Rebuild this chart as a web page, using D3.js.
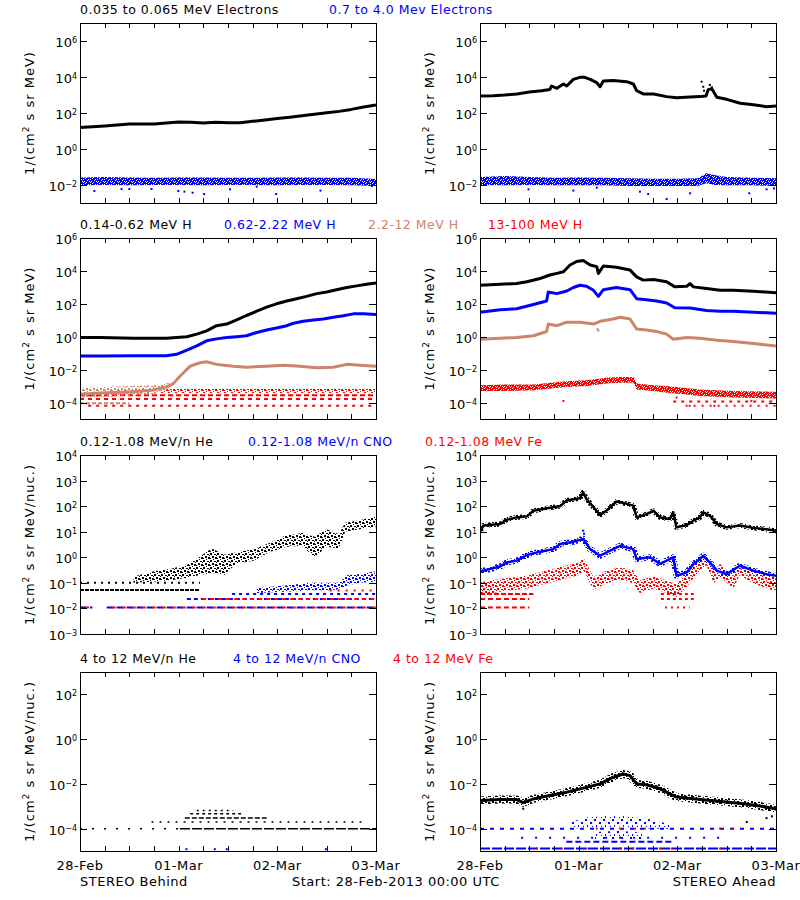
<!DOCTYPE html>
<html><head><meta charset="utf-8">
<script src="https://cdn.jsdelivr.net/npm/d3@7"></script>
<style>
html,body{margin:0;padding:0;background:#fff;}
svg{display:block;}
text{font-family:"DejaVu Sans",sans-serif;}
</style></head><body>
<svg id="chart" width="800" height="900"></svg>
<script>
// ================= DATA (time in hours from 28-Feb-2013 00:00 UTC, flux as log10) =================
const dayLabels = ["28-Feb","01-Mar","02-Mar","03-Mar"];
const dayHours  = [0,24,48,72];
const minorHours = [6,12,18,30,36,42,54,60,66];

// ---- Row 1: electrons ----
const bElecLowT = [0,3,6,9,12,15,18,21,24,27,30,33,36,39,42,45,48,51,54,57,60,63,66,69,72];
const bElecLowV = [1.20,1.24,1.28,1.33,1.39,1.39,1.39,1.44,1.50,1.48,1.44,1.48,1.46,1.46,1.54,1.61,1.69,1.76,1.85,1.93,2.02,2.09,2.20,2.33,2.44];
const bElecHighT  = [0,6,12,18,24,30,36,42,48,54,60,66,72];
const bElecHighLo = [-2.02,-2.0,-2.02,-2.0,-2.0,-2.02,-2.0,-2.0,-2.02,-2.0,-2.0,-2.02,-2.06];
const bElecHighHi = [-1.58,-1.55,-1.58,-1.6,-1.58,-1.58,-1.6,-1.6,-1.58,-1.58,-1.6,-1.6,-1.66];
const bElecHighOutT = [3.5,10.1,12,17.4,23.9,25.4,27.4,30.2,36.5,43,47.7,58.5,71];
const bElecHighOutV = [-2.33,-2.22,-2.22,-2.22,-2.33,-2.37,-2.43,-2.5,-2.24,-2.09,-2.5,-2.31,-2.06];

const aElecLowT = [0,3.2,6,9,12,15,17,17.4,18.7,20.3,21.1,22.7,24.3,25.5,26.8,28.4,29.2,30,32.4,35.7,37.3,38.1,39.7,42.2,45.4,47.8,51.1,53.5,55,55.5,56.4,57.6,60,63.3,66.5,69.7,72];
const aElecLowV = [2.94,2.96,3.0,3.06,3.17,3.24,3.31,3.5,3.37,3.61,3.5,3.87,3.98,3.98,3.87,3.69,3.46,3.78,3.80,3.74,3.61,3.24,3.06,3.06,2.91,2.85,2.89,2.91,2.95,3.3,3.35,2.87,2.76,2.54,2.46,2.35,2.39];
const aElecLowOutT = [53.9,54.3,54.5,55.1,55.9,56.4];
const aElecLowOutV = [3.74,3.46,3.24,3.06,3.56,3.43];
const aElecHighT  = [0,6,12,18,24,30,36,42,48,53,55,57,60,66,72];
const aElecHighLo = [-2.0,-2.02,-2.0,-2.02,-2.02,-2.02,-2.05,-2.05,-2.05,-2.05,-1.9,-2.0,-2.02,-2.02,-2.05];
const aElecHighHi = [-1.55,-1.5,-1.55,-1.6,-1.58,-1.6,-1.62,-1.65,-1.65,-1.62,-1.35,-1.45,-1.55,-1.6,-1.62];
const aElecHighOutT = [11.8,22.7,28.4,38.9,40.9,45.4,51.1,65.5,69.7,71.5];
const aElecHighOutV = [-2.24,-2.31,-2.15,-2.37,-2.5,-2.78,-2.46,-2.46,-2.24,-2.19];

// ---- Row 2: protons ----
const bH1T = [0,5,13,21,26,28.4,30.8,33.2,35.7,38.1,40.5,43,45.4,47.8,50.3,52.7,55.1,57.6,60,62.4,64.9,67.3,69.7,72];
const bH1V = [-0.05,-0.05,-0.09,-0.09,0,0.16,0.36,0.67,0.77,1.02,1.29,1.55,1.80,2.0,2.17,2.31,2.45,2.62,2.72,2.86,2.99,3.09,3.19,3.27];
const bH2T = [0,5,13,21,23.5,26,28.4,30.8,33.2,35.7,38.1,40.5,43,45.4,47.8,50.3,51.9,54.3,56.8,59.2,61.6,64.1,66.5,68.9,72];
const bH2V = [-1.17,-1.17,-1.15,-1.15,-1.07,-0.82,-0.56,-0.25,-0.13,-0.05,0,0.06,0.26,0.41,0.53,0.67,0.82,0.94,1.02,1.08,1.18,1.27,1.39,1.39,1.35];
const bH3T = [0,5,13,17.4,21.1,22.7,24.3,26.8,29.2,30.8,33.2,37.3,40.5,45.4,49.5,53.5,57.6,61.6,64.9,68.1,72];
const bH3V = [-3.5,-3.42,-3.35,-3.25,-3.05,-2.85,-2.4,-1.79,-1.58,-1.52,-1.68,-1.79,-1.85,-1.79,-1.73,-1.79,-1.89,-1.85,-1.68,-1.73,-1.79];
const bH3BandT  = [0,6,12,18,22];
const bH3BandLo = [-3.7,-3.65,-3.6,-3.5,-3.1];
const bH3BandHi = [-3.1,-3.05,-3.0,-2.95,-2.8];
const bH3Levels = [[-4.05,0,12]];
const bH4BandT  = [0,72];
const bH4BandLo = [-3.42,-3.42];
const bH4BandHi = [-3.18,-3.18];
const bH4Levels = [[-3.55,0,72],[-3.78,0,72],[-4.2,2,72]];

const aH1T = [0,4.9,8.9,11.4,14.6,17,18.7,20.3,21.9,23.5,25.1,26.8,28.4,28.8,30,33.2,36.5,38.1,39.7,42.2,45.4,47.4,50.3,51.1,51.9,55.1,58.4,61.6,66.5,72];
const aH1V = [3.13,3.19,3.23,3.34,3.54,3.75,3.85,3.95,4.36,4.57,4.63,4.36,4.26,3.85,4.30,4.22,4.05,3.64,3.44,3.48,3.34,3.03,3.07,3.23,3.03,2.93,2.82,2.82,2.76,2.68];
const aH2T = [0,4.9,8.9,13,16.2,16.6,18.7,21.1,22.7,24.3,25.9,27.6,28.8,30,33.2,36.5,38.1,40.5,43,45.4,47.4,51.1,55.1,58.4,61.6,66.5,72];
const aH2V = [1.49,1.64,1.70,1.96,2.17,2.72,2.62,2.78,2.99,3.13,3.07,2.82,2.45,2.86,2.99,2.86,2.31,2.25,2.17,2.05,1.76,1.74,1.60,1.55,1.55,1.49,1.43];
const aH3T = [0,4.9,8.9,13,16.2,16.6,18.7,21.1,24.3,27.6,29.2,32.4,34.1,36.5,38.1,40.5,43,45.4,47,50.3,53.5,57.6,61.6,66.5,72];
const aH3V = [-0.15,-0.09,-0.05,0.06,0.32,0.77,0.67,0.88,0.88,0.77,0.94,1.08,1.18,1.08,0.47,0.41,0.32,0.16,-0.15,-0.05,-0.09,-0.21,-0.29,-0.41,-0.56];
const aH3OutT = [28.8,28.6];
const aH3OutV = [0.38,0.45];
const aH4BandT  = [0,6,13,21,26,30.8,34,37.3,38.1,42.2,45.4,49.5,53.5,61.6,72];
const aH4BandLo = [-3.3,-3.3,-3.25,-3.05,-3.0,-2.85,-2.8,-2.8,-3.2,-3.3,-3.4,-3.5,-3.6,-3.7,-3.75];
const aH4BandHi = [-2.95,-2.9,-2.9,-2.7,-2.65,-2.5,-2.45,-2.45,-2.85,-2.95,-3.0,-3.1,-3.2,-3.3,-3.35];
const aH4Levels = [[-3.94,47,72],[-4.2,50,72]];
const aH4OutT = [20.3,47.8,51,57,66];
const aH4OutV = [-3.9,-3.7,-4.2,-4.2,-3.9];

// ---- Row 3: 0.12-1.08 MeV/n ions ----
const bLoHeLevels = [[-1.28,0,29.2],[-1.0,0,29.2]];
const bLoHeBandT  = [13,18,22,26,29,32,35,38,42,46,50,54,57,60,63,64.5,68,72];
const bLoHeBandLo = [-1.0,-0.95,-0.9,-0.8,-0.7,-0.6,-0.7,-0.25,-0.15,0.2,0.4,0.45,0.0,0.4,0.35,1.0,1.1,1.2];
const bLoHeBandHi = [-0.75,-0.55,-0.45,-0.3,0.0,0.35,0.1,0.2,0.3,0.55,0.85,0.95,0.8,1.1,0.9,1.35,1.45,1.6];
const bLoCnoLevels = [[-1.96,0,3],[-1.96,6.5,72],[-1.63,26,72],[-1.44,37,72]];
const bLoCnoBandT  = [43,50,56,60,63,65,68,72];
const bLoCnoBandLo = [-1.4,-1.35,-1.3,-1.3,-1.25,-1.1,-1.0,-0.95];
const bLoCnoBandHi = [-1.2,-1.1,-1.0,-1.0,-1.0,-0.7,-0.65,-0.55];
const bLoFeLevels = [[-1.96,0,3],[-1.96,6.5,72],[-1.63,29,72],[-1.3,60,72]];

const aLoHeT = [0,0.8,4.9,6.5,8.9,11.4,13,16.2,19.5,21.1,24.3,25.1,25.9,27.6,29.2,30.8,33.2,35.7,37.3,38.1,40.5,42.2,43.8,46.2,47,47.8,50.3,51.9,53.5,54.3,55.9,57.6,60,63.2,66.5,69.7,72];
const aLoHeV = [0.98,1.24,1.30,1.47,1.56,1.60,1.82,1.92,2.0,2.22,2.31,2.54,2.28,1.96,1.66,1.83,2.18,2.09,2.02,1.56,1.69,1.82,1.56,1.5,1.76,1.17,1.26,1.43,1.56,1.76,1.63,1.3,1.17,1.24,1.15,1.1,1.04];
const aLoCnoT = [0,4.9,6.5,8.9,11.4,14.6,17.8,19.5,22.7,25.1,26.8,29.2,32.4,34.1,37.3,38.1,41.4,43.8,47,47.8,50.3,51.9,53.5,54.3,55.9,57.6,60,63.2,66.5,69.7,72];
const aLoCnoV = [-0.56,-0.36,-0.2,-0.13,0.09,0.22,0.32,0.52,0.61,0.72,0.32,0.06,0.32,0.45,0.32,-0.07,0,-0.26,0,-0.72,-0.59,-0.26,-0.07,0.06,-0.2,-0.52,-0.66,-0.33,-0.52,-0.66,-0.72];
const aLoCnoOutT = [25.1,25.3];
const aLoCnoOutV = [1.04,0.92];
const aLoFeBandT  = [0,4.9,11.4,16.2,21.1,24.3,25.1,27.6,30.8,34.1,37.3,38.9,42.2,45.4,47.8,50.3,53.5,55.1,56.8,58.4,61.6,63.2,66.5,72];
const aLoFeBandHi = [-0.98,-0.85,-0.72,-0.52,-0.32,-0.19,0.0,-0.77,-0.52,-0.39,-0.52,-0.91,-0.72,-0.91,-1.04,-0.65,0.0,0.15,-0.52,-0.26,-0.72,-0.19,-0.52,-0.85];
const aLoFeBandLo = [-1.48,-1.35,-1.22,-1.02,-0.82,-0.69,-0.5,-1.27,-1.02,-0.89,-1.02,-1.41,-1.22,-1.41,-1.54,-1.15,-0.5,-0.3,-1.02,-0.76,-1.22,-0.69,-1.02,-1.35];
const aLoFeLevels = [[-1.44,0,13],[-1.63,0,12],[-1.96,0,12],[-1.44,44,52],[-1.63,44,52],[-1.96,45,51]];

// ---- Row 4: 4-12 MeV/n ions ----
const bHiHeLevels = [[-4.0,0,24.3],[-4.0,24.3,72],[-3.7,17.4,69.7],[-3.53,25.5,45.4],[-3.33,26.8,39.7],[-3.19,28.4,37.3]];
const bHiCnoT = [25.9,32.8,35.7,59.8];
const bHiCnoV = [-4.92,-4.92,-4.92,-4.92];

const aHiHeT = [0,4.9,8.9,10.5,13,17,21.1,25.1,29.2,32.4,34.9,36.5,38.1,40.5,43.8,47.8,51.9,55.9,60,64.1,68.1,72];
const aHiHeV = [-2.74,-2.70,-2.70,-2.84,-2.67,-2.52,-2.37,-2.19,-2.0,-1.70,-1.56,-1.63,-2.0,-2.04,-2.22,-2.59,-2.67,-2.74,-2.81,-2.89,-2.99,-3.11];
const aHiHeOutT = [10.5,64.9,69.7,71];
const aHiHeOutV = [-3.11,-3.7,-3.53,-3.45];
const aHiCnoLevels = [[-4.89,0,72],[-4.0,0,72],[-4.59,21,47],[-4.41,10,60]];
const aHiCnoBandT  = [22,26,30,34,38,42,46];
const aHiCnoBandLo = [-4.0,-3.95,-3.95,-3.9,-3.95,-4.0,-4.0];
const aHiCnoBandHi = [-3.7,-3.5,-3.45,-3.4,-3.5,-3.6,-3.8];
const aHiCnoBand2T  = [28,34,40];
const aHiCnoBand2Lo = [-4.5,-4.5,-4.5];
const aHiCnoBand2Hi = [-4.15,-4.1,-4.2];
const aHiFeT = [28.4,34.1,37.7,40.1,58.4,61.6,13.8,19.9,25.9,34.1,37.3,43.8,46.6,58.4];
const aHiFeV = [-4,-4,-4,-4,-4,-4,-4.89,-4.89,-4.89,-4.89,-4.89,-4.89,-4.89,-4.89];

// ================= DRAWING =================
const COLORS = {k:"#000000", b:"#0000ff", n:"#cc856b", r:"#ff0000"};
const svg = d3.select("#chart");
const defs = svg.append("defs");
// speckle textures used to render noisy (scattered-dot) envelopes
const TILES = {
  dense: {w:7,h:5, r:[[0,0,3,1],[4,0,3,1],[1,1,4,1],[6,1,1,1],[0,2,2,1],[3,2,3,1],[0,3,1,1],[2,3,5,1],[0,4,4,1],[5,4,1,1]]},
  medium:{w:7,h:7, r:[[0,0,2,2],[4,1,2,1],[2,3,2,2],[5,4,2,2],[0,5,1,1],[3,6,1,1],[6,2,1,1]]},
  sparse:{w:9,h:9, r:[[0,0,2,2],[5,3,2,2],[2,6,1,2],[7,7,1,1]]}
};
for (const c in COLORS) for (const d in TILES) {
  const p = defs.append("pattern").attr("id",`p-${c}-${d}`)
    .attr("patternUnits","userSpaceOnUse").attr("width",TILES[d].w).attr("height",TILES[d].h);
  TILES[d].r.forEach(r=>p.append("rect").attr("x",r[0]).attr("y",r[1])
    .attr("width",r[2]).attr("height",r[3]).attr("fill",COLORS[c]));
}

const W = 296;
const YT1 = "MeV)", YT2 = "MeV/nuc.)";
const panels = [
  {x0:80, y0:23, h:180, dom:[-3,7], ticks:[-2,0,2,4,6], yt:YT1,
   titles:[{t:"0.035 to 0.065 MeV Electrons",c:"k",x:80},{t:"0.7 to 4.0 Mev Electrons",c:"b",x:329}],
   layers:[
    {type:"band",t:bElecHighT,lo:bElecHighLo,hi:bElecHighHi,c:"b",pat:"dense"},
    {type:"pts",t:bElecHighOutT,v:bElecHighOutV,c:"b"},
    {type:"line",t:bElecLowT,v:bElecLowV,c:"k",w:3}
   ]},
  {x0:480, y0:23, h:180, dom:[-3,7], ticks:[-2,0,2,4,6], yt:YT1, titles:[],
   layers:[
    {type:"band",t:aElecHighT,lo:aElecHighLo,hi:aElecHighHi,c:"b",pat:"dense"},
    {type:"pts",t:aElecHighOutT,v:aElecHighOutV,c:"b"},
    {type:"line",t:aElecLowT,v:aElecLowV,c:"k",w:3},
    {type:"pts",t:aElecLowOutT,v:aElecLowOutV,c:"k"}
   ]},
  {x0:80, y0:238, h:181, dom:[-5,6], ticks:[-4,-2,0,2,4,6], yt:YT1,
   titles:[{t:"0.14-0.62 MeV H",c:"k",x:80},{t:"0.62-2.22 MeV H",c:"b",x:224},{t:"2.2-12 MeV H",c:"n",x:368},{t:"13-100 MeV H",c:"r",x:488}],
   layers:[
    {type:"band",t:bH4BandT,lo:bH4BandLo,hi:bH4BandHi,c:"r",pat:"medium"},
    {type:"lvl",segs:bH4Levels,c:"r",dash:["5,3","4,4","3,5"]},
    {type:"band",t:bH3BandT,lo:bH3BandLo,hi:bH3BandHi,c:"n",pat:"medium"},
    {type:"lvl",segs:bH3Levels,c:"n",dash:["4,2"]},
    {type:"line",t:bH3T,v:bH3V,c:"n",w:3},
    {type:"line",t:bH2T,v:bH2V,c:"b",w:3},
    {type:"line",t:bH1T,v:bH1V,c:"k",w:3}
   ]},
  {x0:480, y0:238, h:181, dom:[-5,6], ticks:[-4,-2,0,2,4,6], yt:YT1, titles:[],
   layers:[
    {type:"band",t:aH4BandT,lo:aH4BandLo,hi:aH4BandHi,c:"r",pat:"dense"},
    {type:"lvl",segs:aH4Levels,c:"r",dash:["3,5","2,6"]},
    {type:"pts",t:aH4OutT,v:aH4OutV,c:"r"},
    {type:"line",t:aH3T,v:aH3V,c:"n",w:3},
    {type:"pts",t:aH3OutT,v:aH3OutV,c:"n"},
    {type:"line",t:aH2T,v:aH2V,c:"b",w:3},
    {type:"line",t:aH1T,v:aH1V,c:"k",w:3}
   ]},
  {x0:80, y0:455, h:179, dom:[-3,4], ticks:[-3,-2,-1,0,1,2,3,4], yt:YT2,
   titles:[{t:"0.12-1.08 MeV/n He",c:"k",x:80},{t:"0.12-1.08 MeV/n CNO",c:"b",x:248},{t:"0.12-1.08 MeV Fe",c:"r",x:425}],
   layers:[
    {type:"lvl",segs:bLoHeLevels,c:"k",dash:["4,1","2,5"]},
    {type:"band",t:bLoHeBandT,lo:bLoHeBandLo,hi:bLoHeBandHi,c:"k",pat:"medium"},
    {type:"lvl",segs:bLoCnoLevels,c:"b",dash:["6,4","6,4","4,3","3,4"]},
    {type:"lvl",segs:bLoFeLevels,c:"r",dash:["4,6","4,6","4,4","2,6"],off:5},
    {type:"band",t:bLoCnoBandT,lo:bLoCnoBandLo,hi:bLoCnoBandHi,c:"b",pat:"medium"}
   ]},
  {x0:480, y0:455, h:179, dom:[-3,4], ticks:[-3,-2,-1,0,1,2,3,4], yt:YT2, titles:[],
   layers:[
    {type:"lvl",segs:aLoFeLevels,c:"r",dash:["5,2","5,3","5,3","3,3","3,3","2,4"]},
    {type:"band",t:aLoFeBandT,lo:aLoFeBandLo,hi:aLoFeBandHi,c:"r",pat:"medium"},
    {type:"line",t:aLoCnoT,v:aLoCnoV,c:"b",w:6,pat:"medium"},
    {type:"line",t:aLoCnoT,v:aLoCnoV,c:"b",w:2.5},
    {type:"pts",t:aLoCnoOutT,v:aLoCnoOutV,c:"b"},
    {type:"line",t:aLoHeT,v:aLoHeV,c:"k",w:5,pat:"medium"},
    {type:"line",t:aLoHeT,v:aLoHeV,c:"k",w:2.5}
   ]},
  {x0:80, y0:672, h:179, dom:[-5,3], ticks:[-4,-2,0,2], yt:YT2,
   titles:[{t:"4 to 12 MeV/n He",c:"k",x:80},{t:"4 to 12 MeV/n CNO",c:"b",x:233},{t:"4 to 12 MeV Fe",c:"r",x:393}],
   layers:[
    {type:"lvl",segs:bHiHeLevels,c:"k",dash:["2,10","10,2","2,6","5,2","3,3","2,4"],w:1.5},
    {type:"pts",t:bHiCnoT,v:bHiCnoV,c:"b"}
   ]},
  {x0:480, y0:672, h:179, dom:[-5,3], ticks:[-4,-2,0,2], yt:YT2, titles:[],
   layers:[
    {type:"lvl",segs:aHiCnoLevels,c:"b",dash:["10,2","4,6","6,3","2,12"]},
    {type:"band",t:aHiCnoBandT,lo:aHiCnoBandLo,hi:aHiCnoBandHi,c:"b",pat:"sparse"},
    {type:"band",t:aHiCnoBand2T,lo:aHiCnoBand2Lo,hi:aHiCnoBand2Hi,c:"b",pat:"sparse"},
    {type:"pts",t:aHiFeT,v:aHiFeV,c:"r"},
    {type:"line",t:aHiHeT,v:aHiHeV,c:"k",w:8,pat:"medium"},
    {type:"line",t:aHiHeT,v:aHiHeV,c:"k",w:3},
    {type:"pts",t:aHiHeOutT,v:aHiHeOutV,c:"k"}
   ]}
];

panels.forEach((P,i)=>{
  const x = d3.scaleLinear().domain([0,72]).range([P.x0,P.x0+W]);
  const y = d3.scaleLog().domain([Math.pow(10,P.dom[0]),Math.pow(10,P.dom[1])]).range([P.y0+P.h,P.y0]);
  const Y = v => y(Math.pow(10,v));
  defs.append("clipPath").attr("id","clip"+i).append("rect")
    .attr("x",P.x0).attr("y",P.y0).attr("width",W).attr("height",P.h);
  const g = svg.append("g").attr("clip-path",`url(#clip${i})`);
  P.layers.forEach(L=>{
    const col = COLORS[L.c];
    if (L.type==="band") {
      const idx = d3.range(L.t.length);
      const area = d3.area().x(j=>x(L.t[j])).y0(j=>Y(L.lo[j])).y1(j=>Y(L.hi[j]));
      g.append("path").attr("d",area(idx)).attr("fill",`url(#p-${L.c}-${L.pat})`);
    } else if (L.type==="line") {
      const idx = d3.range(L.t.length);
      const line = d3.line().x(j=>x(L.t[j])).y(j=>Y(L.v[j]));
      g.append("path").attr("d",line(idx)).attr("fill","none")
        .attr("stroke", L.pat ? `url(#p-${L.c}-${L.pat})` : col)
        .attr("stroke-width",L.w).attr("stroke-linejoin","round");
    } else if (L.type==="lvl") {
      L.segs.forEach((s,j)=>{
        g.append("line").attr("x1",x(s[1])).attr("x2",x(s[2]))
          .attr("y1",Y(s[0])).attr("y2",Y(s[0]))
          .attr("stroke",col).attr("stroke-width",L.w||2)
          .attr("stroke-dasharray",L.dash[j]||"3,3")
          .attr("stroke-dashoffset",L.off||0);
      });
    } else if (L.type==="pts") {
      g.selectAll(null).data(d3.range(L.t.length)).join("rect")
        .attr("x",j=>x(L.t[j])-1).attr("y",j=>Y(L.v[j])-1)
        .attr("width",2).attr("height",2).attr("fill",col);
    }
  });
  // frame
  svg.append("rect").attr("x",P.x0+0.5).attr("y",P.y0+0.5).attr("width",W).attr("height",P.h)
    .attr("fill","none").attr("stroke","#000").attr("stroke-width",1).attr("shape-rendering","crispEdges");
  const ax = svg.append("g").attr("stroke","#000").attr("stroke-width",1).attr("shape-rendering","crispEdges");
  dayHours.concat(minorHours).forEach(hh=>{
    const xx = Math.round(x(hh))+0.5;
    ax.append("line").attr("x1",xx).attr("x2",xx).attr("y1",P.y0+P.h).attr("y2",P.y0+P.h-5);
    ax.append("line").attr("x1",xx).attr("x2",xx).attr("y1",P.y0).attr("y2",P.y0+5);
  });
  P.ticks.forEach(e=>{
    const yy = Math.round(Y(e))+0.5;
    ax.append("line").attr("x1",P.x0).attr("x2",P.x0+7).attr("y1",yy).attr("y2",yy);
    ax.append("line").attr("x1",P.x0+W-7).attr("x2",P.x0+W).attr("y1",yy).attr("y2",yy);
    const t = svg.append("text").attr("x",P.x0-3).attr("y",yy+5).attr("text-anchor","end")
      .attr("font-size",13).attr("fill","#000");
    t.append("tspan").text("10");
    t.append("tspan").attr("dy",-3.5).attr("font-size",8).text(String(e).replace("-","\u2212"));
  });
  const cy = P.y0+P.h/2;
  const yt = svg.append("text").attr("transform",`translate(${P.x0-46},${cy}) rotate(-90)`)
    .attr("text-anchor","middle").attr("font-size",13).attr("letter-spacing",1).attr("fill","#000");
  yt.append("tspan").text("1/(cm");
  yt.append("tspan").attr("dy",-5).attr("font-size",9).text("2");
  yt.append("tspan").attr("dy",5).text(" s sr "+P.yt);
  P.titles.forEach(T=>{
    svg.append("text").attr("x",T.x).attr("y",P.y0-9).attr("font-size",12.5)
      .attr("letter-spacing",0.5).attr("fill",COLORS[T.c]).text(T.t);
  });
  if (i>=6) {
    dayHours.forEach((hh,j)=>{
      svg.append("text").attr("x",x(hh)).attr("y",870).attr("text-anchor","middle")
        .attr("font-size",13).attr("letter-spacing",0.5).attr("fill","#000").text(dayLabels[j]);
    });
  }
});
svg.append("text").attr("x",80).attr("y",886).attr("font-size",13).attr("letter-spacing",0.5).text("STEREO Behind");
svg.append("text").attr("x",292).attr("y",886).attr("font-size",13).attr("letter-spacing",0.5).text("Start: 28-Feb-2013 00:00 UTC");
svg.append("text").attr("x",776).attr("y",886).attr("text-anchor","end").attr("font-size",13).attr("letter-spacing",0.5).text("STEREO Ahead");
</script>
</body></html>
